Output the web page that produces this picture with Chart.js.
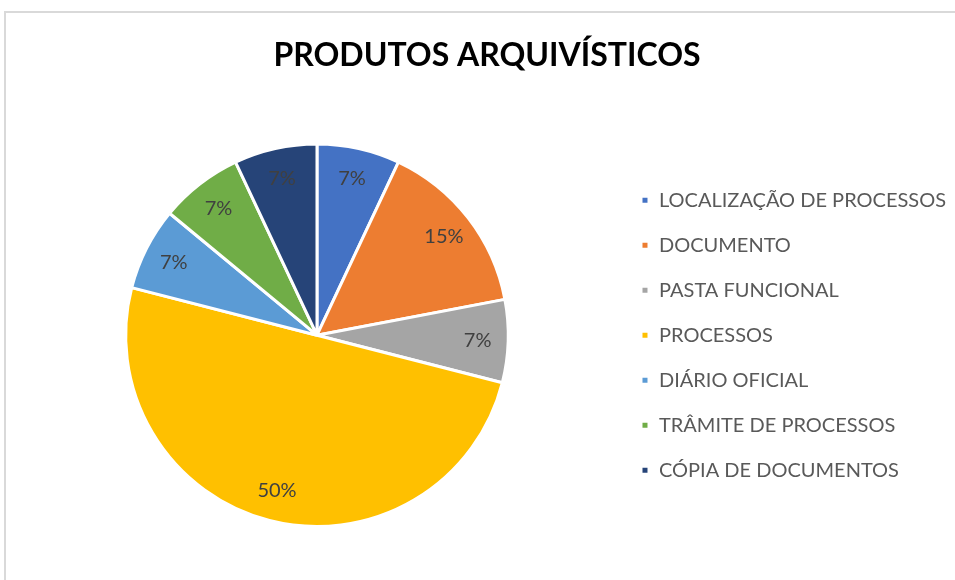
<!DOCTYPE html>
<html>
<head>
<meta charset="utf-8">
<script src="https://cdn.jsdelivr.net/npm/chart.js@4.4.1/dist/chart.umd.min.js"></script>
<style>
  html, body { margin: 0; padding: 0; background: #fff; overflow: hidden; }
  #frame { position: absolute; left: 4px; top: 11px; width: 1000px; height: 1000px; border: 2px solid #d9d9d9; }
  #wrap { position: absolute; left: 0; top: 0; width: 955px; height: 580px; }
</style>
</head>
<body>
<div id="frame"></div>
<div id="wrap"><canvas id="myChart" width="955" height="580"></canvas></div>
<script>
const title = "PRODUTOS ARQUIVÍSTICOS";
const categories = [
    "LOCALIZAÇÃO DE PROCESSOS",
    "DOCUMENTO",
    "PASTA FUNCIONAL",
    "PROCESSOS",
    "DIÁRIO OFICIAL",
    "TRÂMITE DE PROCESSOS",
    "CÓPIA DE DOCUMENTOS"
];
const percentages = [7, 15, 7, 50, 7, 7, 7];
const sliceColors = ["#4472C4", "#ED7D31", "#A5A5A5", "#FFC000", "#5B9BD5", "#70AD47", "#264478"];

// percent labels inside each slice, like excel does
const sliceLabels = {
    id: 'sliceLabels',
    afterDatasetsDraw(chart) {
        const ctx = chart.ctx;
        const meta = chart.getDatasetMeta(0);
        ctx.save();
        ctx.font = '20px Lato';
        ctx.fillStyle = '#404040';
        ctx.textAlign = 'center';
        ctx.textBaseline = 'middle';
        meta.data.forEach((arc, i) => {
            const mid = (arc.startAngle + arc.endAngle) / 2;
            const r = arc.outerRadius * 0.84;
            ctx.fillText(percentages[i] + '%', arc.x + Math.cos(mid) * r, arc.y + Math.sin(mid) * r);
        });
        ctx.restore();
    }
};

const data = {
    labels: categories,
    datasets: [{
        data: percentages,
        backgroundColor: sliceColors,
        borderColor: '#ffffff',
        borderWidth: 3
    }]
};

const config = {
    type: 'pie',
    data,
    options: {
        responsive: false,
        animation: false,
        layout: {
            padding: { left: 18, right: -1, top: 0, bottom: 52 }
        },
        plugins: {
            title: {
                display: true,
                text: title,
                color: '#000000',
                font: { family: 'Lato', size: 32, weight: 'bold', lineHeight: 1.2 },
                padding: { top: 36, bottom: 68 }
            },
            legend: {
                position: 'right',
                fullSize: false,
                labels: {
                    color: '#595959',
                    font: { family: 'Lato', size: 20 },
                    boxWidth: 8,
                    boxHeight: 8,
                    padding: 25
                }
            },
            tooltip: { enabled: false }
        }
    },
    plugins: [sliceLabels]
};

// render init block
const myChart = new Chart(
    document.getElementById('myChart'),
    config
);
</script>
</body>
</html>
